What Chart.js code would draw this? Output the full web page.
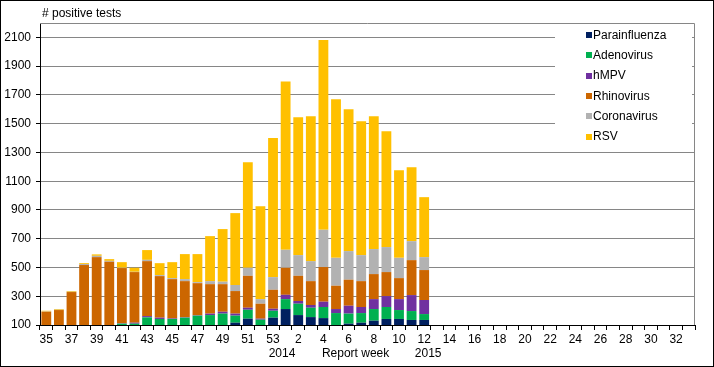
<!DOCTYPE html>
<html>
<head>
<meta charset="utf-8">
<script src="https://cdn.jsdelivr.net/npm/chart.js@4/dist/chart.umd.min.js"></script>
<style>
  body { margin: 0; background: #fff; }
  #wrap { width: 714px; height: 367px; }
</style>
</head>
<body>
<div id="wrap"><canvas id="myChart" width="714" height="367"></canvas></div>
<script>
// report weeks: 2014 wk 35..53, then 2015 wk 1..33
const weeks = ['35','36','37','38','39','40','41','42','43','44','45','46','47','48','49','50','51','52','53',
  '1','2','3','4','5','6','7','8','9','10','11','12','13','14','15','16','17','18','19','20',
  '21','22','23','24','25','26','27','28','29','30','31','32','33'];

const parainfluenza = [5,5,8,10,10,12,15,18,25,30,35,40,50,60,80,116,144,80,151,211,169,155,148,90,109,116,130,142,142,135,135];
const adenovirus    = [35,40,47,50,55,58,94,91,128,112,107,111,115,109,99,49,62,57,48,69,79,65,77,93,70,67,81,83,62,62,41];
const hmpv          = [5,5,5,6,5,6,3,7,9,9,4,3,3,10,13,14,14,7,14,30,19,19,37,28,55,42,69,76,76,111,98];
const rhinovirus    = [147,154,269,451,502,464,384,352,382,289,273,251,223,205,192,157,222,104,132,188,175,166,241,162,181,180,174,167,146,243,208];
const coronavirus   = [2,2,2,7,9,6,2,2,9,7,7,14,7,21,17,42,56,32,88,125,144,139,259,194,199,181,174,174,141,132,90];
const rsv           = [5,5,5,6,10,12,39,28,68,83,111,174,195,313,366,500,734,646,968,1171,958,1007,1320,1102,986,931,923,805,609,514,417];

const yTicks = [100,300,500,700,900,1100,1300,1500,1700,1900,2100];
const yMin = 100, yMax = 2200;

const font = '12px "Liberation Sans", Arial, sans-serif';

// title, year labels, legend and frame
const extras = {
  id: 'extras',
  afterDraw(chart) {
    const ctx = chart.ctx;
    const a = chart.chartArea;
    const x = chart.scales.x;
    ctx.save();
    ctx.font = font;
    ctx.fillStyle = '#000';
    ctx.textBaseline = 'middle';
    ctx.textAlign = 'left';
    ctx.fillText('# positive tests', a.left + 2, 14);

    // plot frame (top/right)
    ctx.strokeStyle = '#868686';
    ctx.lineWidth = 1;
    ctx.beginPath();
    ctx.moveTo(a.left, a.top + 0.5);
    ctx.lineTo(a.right - 0.5, a.top + 0.5);
    ctx.lineTo(a.right - 0.5, a.bottom);
    ctx.stroke();

    // year / axis title line
    ctx.textAlign = 'center';
    ctx.fillText('2014', x.getPixelForValue(weeks.indexOf('53')) + 9, 354);
    ctx.fillText('Report week', x.getPixelForValue(weeks.indexOf('6')) + 7, 354);
    ctx.fillText('2015', x.getPixelForValue(weeks.indexOf('12')) + 4, 354);

    // legend
    const lx = 555, ly = a.top + 1;
    ctx.fillStyle = '#fff';
    ctx.fillRect(lx, ly, a.right - 3 - lx, 127);
    ctx.textAlign = 'left';
    chart.data.datasets.forEach((ds, i) => {
      const cy = 35 + i * 20.3;
      ctx.fillStyle = ds.backgroundColor;
      ctx.fillRect(586, Math.round(cy) - 3, 6, 6);
      ctx.fillStyle = '#000';
      ctx.fillText(ds.label, 593, cy + 0.5);
    });

    // outer border
    ctx.strokeStyle = '#000';
    ctx.strokeRect(0.5, 0.5, chart.width - 1, chart.height - 1);
    ctx.restore();
  }
};

const ctx = document.getElementById('myChart').getContext('2d');
new Chart(ctx, {
  type: 'bar',
  data: {
    labels: weeks,
    datasets: [
      { label: 'Parainfluenza', data: parainfluenza, backgroundColor: '#002060' },
      { label: 'Adenovirus', data: adenovirus, backgroundColor: '#00B050' },
      { label: 'hMPV', data: hmpv, backgroundColor: '#7030A0' },
      { label: 'Rhinovirus', data: rhinovirus, backgroundColor: '#CC6600' },
      { label: 'Coronavirus', data: coronavirus, backgroundColor: '#B2B2B2' },
      { label: 'RSV', data: rsv, backgroundColor: '#FFC000' }
    ]
  },
  options: {
    responsive: false,
    animation: false,
    layout: { padding: { top: 23, right: 19, left: 0, bottom: 0 } },
    datasets: { bar: { barPercentage: 0.78, categoryPercentage: 1 } },
    plugins: {
      legend: { display: false },
      title: { display: false },
      tooltip: { enabled: false }
    },
    scales: {
      x: {
        stacked: true,
        afterFit: function(scale) { scale.height = 42; },
        grid: { drawOnChartArea: false, offset: true, tickLength: 5, tickColor: '#000' },
        border: { color: '#000', width: 1 },
        ticks: {
          autoSkip: false,
          maxRotation: 0,
          padding: 2,
          color: '#000',
          font: { family: '"Liberation Sans", Arial, sans-serif', size: 12 },
          callback: function(val, i) { return i % 2 === 0 ? weeks[i] : ''; }
        }
      },
      y: {
        stacked: true,
        min: yMin,
        max: yMax,
        afterFit: function(scale) { scale.width = 40; },
        afterBuildTicks: function(scale) { scale.ticks = yTicks.map(v => ({ value: v })); },
        grid: {
          color: function(c) { return c.tick && c.tick.value === yMin ? '#000' : '#868686'; },
          tickColor: '#000',
          tickLength: 4
        },
        border: { color: '#000', width: 1 },
        ticks: {
          padding: 5,
          color: '#000',
          font: { family: '"Liberation Sans", Arial, sans-serif', size: 12 },
          callback: function(v) { return String(v); }
        }
      }
    }
  },
  plugins: [extras]
});
</script>
</body>
</html>
